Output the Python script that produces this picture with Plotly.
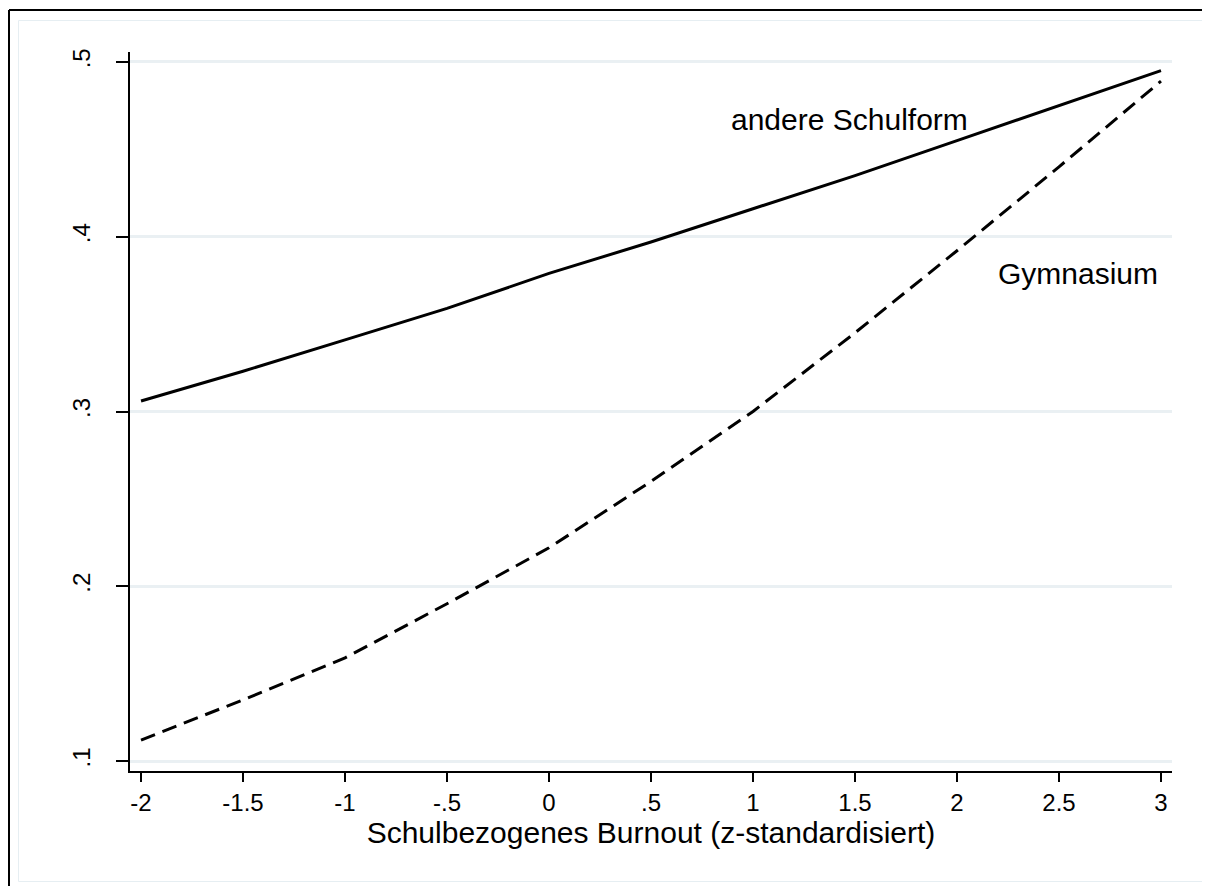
import plotly.graph_objects as go

# Data
burnout = [-2, -1.5, -1, -0.5, 0, 0.5, 1, 1.5, 2, 2.5, 3]
andere_schulform = [0.306, 0.323, 0.341, 0.359, 0.379, 0.397, 0.416, 0.435, 0.455, 0.475, 0.495]
gymnasium = [0.112, 0.135, 0.159, 0.190, 0.222, 0.260, 0.300, 0.345, 0.392, 0.440, 0.489]

x_ticks = [-2, -1.5, -1, -0.5, 0, 0.5, 1, 1.5, 2, 2.5, 3]
x_ticklabels = ["-2", "-1.5", "-1", "-.5", "0", ".5", "1", "1.5", "2", "2.5", "3"]
y_ticks = [0.1, 0.2, 0.3, 0.4, 0.5]
y_ticklabels = [".1", ".2", ".3", ".4", ".5"]

OFF = 8  # page body margin
W, H = 1210 - OFF, 886 - OFF
# desired page-pixel positions of plot area
PL, PR, PT, PB = 130, 1172, 52, 771
ML, MT = PL - OFF, PT - OFF
MR, MB = W - (PR - OFF), H - (PB - OFF)
PW, PH = PR - PL, PB - PT

def px_x(p):
    return (p - PL) / PW

def px_y(p):
    return 1 - (p - PT) / PH

FONT = "Liberation Sans, Arial, sans-serif"

fig = go.Figure()
fig.add_trace(go.Scatter(x=burnout, y=andere_schulform, mode="lines",
                         line=dict(color="black", width=3), name="andere Schulform",
                         showlegend=False))
fig.add_trace(go.Scatter(x=burnout, y=gymnasium, mode="lines",
                         line=dict(color="black", width=3, dash="15px,8px"), name="Gymnasium",
                         showlegend=False))

fig.add_annotation(x=1.475, y=0.467, text="andere Schulform", showarrow=False,
                   font=dict(family=FONT, size=30, color="black"))
fig.add_annotation(x=2.593, y=0.379, text="Gymnasium", showarrow=False,
                   font=dict(family=FONT, size=30, color="black"))

# Outer frame (only left and top edges visible) and inner light frame
for (x0, y0, x1, y1) in [(9, 10, 9, 900), (9, 10, 1230, 10)]:
    fig.add_shape(type="line", xref="paper", yref="paper",
                  x0=px_x(x0), x1=px_x(x1), y0=px_y(y0), y1=px_y(y1),
                  line=dict(color="black", width=2), layer="below")
fig.add_shape(type="rect", xref="paper", yref="paper",
              x0=px_x(18.5), x1=px_x(1202.5), y0=px_y(20.5), y1=px_y(881.5),
              line=dict(color="#e6eef2", width=1), layer="below")

fig.update_layout(
    width=W, height=H,
    margin=dict(l=ML, r=MR, t=MT, b=MB),
    paper_bgcolor="white", plot_bgcolor="white",
    font=dict(family=FONT, color="black"),
    showlegend=False,
)
fig.update_xaxes(
    range=[-2.054, 3.054], tickvals=x_ticks, ticktext=x_ticklabels,
    showline=True, linecolor="black", linewidth=2,
    ticks="outside", ticklen=9, tickwidth=2, tickcolor="black",
    tickfont=dict(family=FONT, size=24, color="black"),
    showgrid=False, zeroline=False,
    title=dict(text="Schulbezogenes Burnout (z-standardisiert)",
               font=dict(family=FONT, size=30, color="black"), standoff=6),
)
fig.update_yaxes(
    range=[0.0943, 0.5057], tickvals=y_ticks, ticktext=y_ticklabels,
    showline=True, linecolor="black", linewidth=2,
    ticks="outside", ticklen=12, tickwidth=2, tickcolor="black",
    tickfont=dict(family=FONT, size=24, color="black"), tickangle=-90,
    ticklabelstandoff=16,
    showgrid=True, gridcolor="#eaf0f3", gridwidth=3, zeroline=False,
)

fig.write_html("out.html")
